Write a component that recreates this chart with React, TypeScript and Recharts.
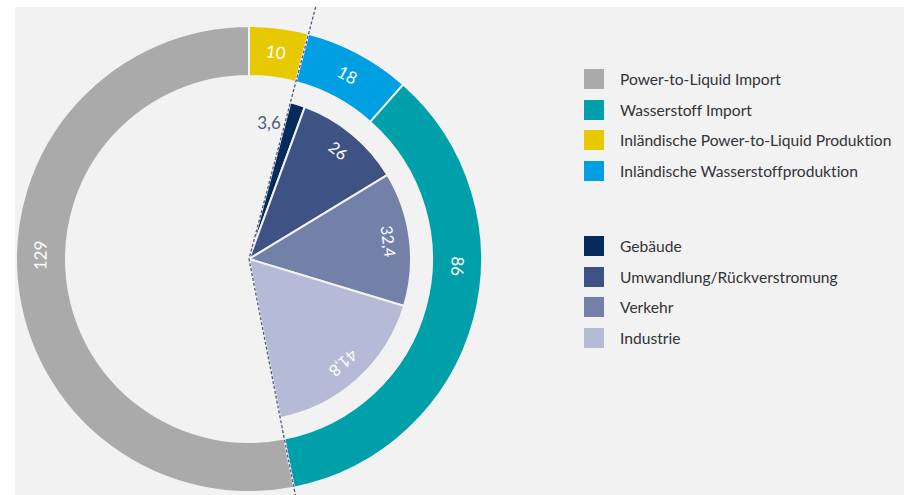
import React from 'react'
import { PieChart, Pie, Cell } from 'recharts'

// Aufkommen (äußerer Ring), im Uhrzeigersinn ab 12 Uhr
const supplyNames = [
  'Inländische Power-to-Liquid Produktion',
  'Inländische Wasserstoffproduktion',
  'Wasserstoff Import',
  'Power-to-Liquid Import',
]
const supplyValues = [10, 18, 86, 129]
const supplyLabels = ['10', '18', '86', '129']
const supplyColors = ['#e6c900', '#009fe2', '#00a0aa', '#a9aaa9']

// Verwendung von Wasserstoff (innerer Kreis)
const useNames = ['Gebäude', 'Umwandlung/Rückverstromung', 'Verkehr', 'Industrie']
const useValues = [3.6, 26, 32.4, 41.8]
const useLabels = ['3,6', '26', '32,4', '41,8']
const useColors = ['#062a5c', '#3e5283', '#7381a9', '#b5bad6']

// Reihenfolge in der Legende (Indizes in supplyNames)
const supplyLegendOrder = [3, 2, 0, 1]

const W = 904
const H = 495
const CX = 249
const CY = 259
const OUTER_R = 233
const RING_INNER_R = 183
const PIE_R = 162
const BG = '#f2f2f2'
const FONT = 'Lato, "Open Sans", sans-serif'

const supplyTotal = supplyValues.reduce((a, b) => a + b, 0)
// Wasserstoff-Anteil: Inländische Wasserstoffproduktion + Wasserstoff Import
const h2StartDeg = (supplyValues[0] / supplyTotal) * 360
const h2EndDeg = ((supplyValues[0] + supplyValues[1] + supplyValues[2]) / supplyTotal) * 360

const supplyData = supplyNames.map((name, i) => ({ name, value: supplyValues[i] }))
const useData = useNames.map((name, i) => ({ name, value: useValues[i] }))

// Winkel (Uhrzeigersinn ab 12 Uhr) -> Punkt
const polar = (deg: number, r: number) => {
  const rad = (deg * Math.PI) / 180
  return { x: CX + r * Math.sin(rad), y: CY - r * Math.cos(rad) }
}

const cumulative = (values: number[], from: number, to: number) => {
  const total = values.reduce((a, b) => a + b, 0)
  let acc = 0
  return values.map((v) => {
    const s = from + (acc / total) * (to - from)
    acc += v
    const e = from + (acc / total) * (to - from)
    return { s, e }
  })
}

const supplyAngles = cumulative(supplyValues, 0, 360)
const useAngles = cumulative(useValues, h2StartDeg, h2EndDeg)

const textRotation = (deg: number) => (deg > 180 ? deg - 360 : deg)

const renderSupplyLabel = ({ index }: any) => {
  const { s, e } = supplyAngles[index]
  let a = (s + e) / 2
  // große Segmente: Beschriftung an der horizontalen Achse
  if (e - s > 90) {
    if (s < 90 && e > 90) a = 92
    else if (s < 270 && e > 270) a = 271
  }
  const p = polar(a, (OUTER_R + RING_INNER_R) / 2 + 1)
  return (
    <text
      key={`sl-${index}`}
      x={p.x}
      y={p.y}
      fill="#ffffff"
      fontSize={17}
      fontFamily={FONT}
      textAnchor="middle"
      dominantBaseline="central"
      transform={`rotate(${textRotation(a)} ${p.x} ${p.y})`}
    >
      {supplyLabels[index]}
    </text>
  )
}

const renderUseLabel = ({ index }: any) => {
  const { s, e } = useAngles[index]
  if (e - s < 10) {
    // schmales Segment: Wert außen links, ohne Drehung
    const p = polar(s - 6.5, 138)
    return (
      <text
        key={`ul-${index}`}
        x={p.x}
        y={p.y}
        fill="#4a5a86"
        fontSize={17}
        fontFamily={FONT}
        textAnchor="middle"
        dominantBaseline="central"
      >
        {useLabels[index]}
      </text>
    )
  }
  const a = (s + e) / 2
  const p = polar(a, 141)
  return (
    <text
      key={`ul-${index}`}
      x={p.x}
      y={p.y}
      fill="#ffffff"
      fontSize={16}
      fontFamily={FONT}
      textAnchor="middle"
      dominantBaseline="central"
      transform={`rotate(${textRotation(a)} ${p.x} ${p.y})`}
    >
      {useLabels[index]}
    </text>
  )
}

// gestrichelte Trennlinie entlang der Wasserstoff-Grenzen
const rayTo = (deg: number, yLimit: number) => {
  const rad = (deg * Math.PI) / 180
  const r = (CY - yLimit) / Math.cos(rad)
  return polar(deg, r)
}
const rayTop = rayTo(h2StartDeg, 7)
const rayBottom = rayTo(h2EndDeg, H)

const LegendRow = ({ color, label, top }: { color: string; label: string; top: number }) => (
  <div style={{ position: 'absolute', left: 584, top, height: 20, display: 'flex', alignItems: 'center' }}>
    <div style={{ width: 20, height: 20, background: color }} />
    <div
      style={{
        marginLeft: 16,
        fontSize: 15.6,
        color: '#333338',
        whiteSpace: 'nowrap',
        fontFamily: FONT,
        fontVariantLigatures: 'none',
      }}
    >
      {label}
    </div>
  </div>
)

export default function App() {
  return (
    <div style={{ position: 'absolute', left: 0, top: 0, width: W, height: H, background: '#ffffff', overflow: 'hidden' }}>
      <div style={{ position: 'absolute', left: 15, top: 7, right: 0, bottom: 0, background: BG }} />
      <div style={{ position: 'absolute', left: 0, top: 0 }}>
        <PieChart width={W} height={H} margin={{ top: 0, right: 0, bottom: 0, left: 0 }}>
          <Pie
            data={supplyData}
            dataKey="value"
            cx={CX}
            cy={CY}
            innerRadius={RING_INNER_R}
            outerRadius={OUTER_R}
            startAngle={90}
            endAngle={-270}
            stroke={BG}
            strokeWidth={2}
            label={renderSupplyLabel}
            labelLine={false}
            isAnimationActive={false}
          >
            {supplyData.map((d, i) => (
              <Cell key={d.name} fill={supplyColors[i]} />
            ))}
          </Pie>
          <Pie
            data={useData}
            dataKey="value"
            cx={CX}
            cy={CY}
            innerRadius={0}
            outerRadius={PIE_R}
            startAngle={90 - h2StartDeg}
            endAngle={90 - h2EndDeg}
            stroke={BG}
            strokeWidth={2}
            label={renderUseLabel}
            labelLine={false}
            isAnimationActive={false}
          >
            {useData.map((d, i) => (
              <Cell key={d.name} fill={useColors[i]} />
            ))}
          </Pie>
        </PieChart>
      </div>
      <svg width={W} height={H} style={{ position: 'absolute', left: 0, top: 0, pointerEvents: 'none' }}>
        <polyline
          points={`${rayTop.x},${rayTop.y} ${CX},${CY} ${rayBottom.x},${rayBottom.y}`}
          fill="none"
          stroke="#4b5a82"
          strokeWidth={1.3}
          strokeDasharray="3 2"
        />
      </svg>
      {supplyLegendOrder.map((idx, i) => (
        <LegendRow key={supplyNames[idx]} color={supplyColors[idx]} label={supplyNames[idx]} top={69 + i * 30.5} />
      ))}
      {useNames.map((name, i) => (
        <LegendRow key={name} color={useColors[i]} label={name} top={236 + i * 30.5} />
      ))}
    </div>
  )
}
